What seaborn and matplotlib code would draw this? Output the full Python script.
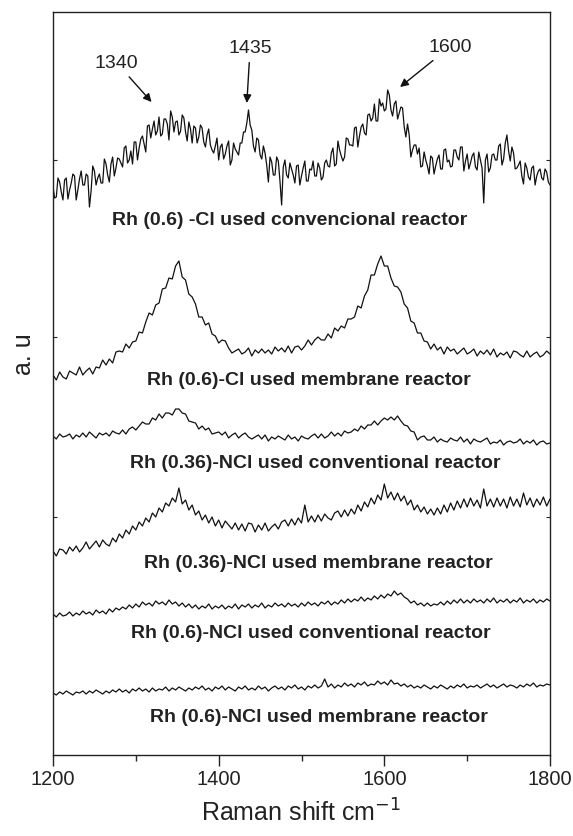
import matplotlib
matplotlib.use("Agg")
import matplotlib.pyplot as plt
import numpy as np
import pandas as pd
import seaborn as sns

# ---------------- data (intensities in arbitrary units) ----------------
raman_shift_fine = list(range(1200, 1801, 2))   # sampling of the noisy top spectrum
raman_shift = list(range(1200, 1801, 4))        # sampling of the other spectra

cl06_conventional = [
    568, 557, 558, 577, 573, 563, 555, 575, 577, 556, 565, 572, 581, 579, 555, 565, 576, 584, 570, 570,
    581, 579, 548, 564, 589, 584, 570, 577, 581, 572, 572, 596, 591, 580, 573, 591, 598, 579, 587, 597,
    596, 592, 588, 607, 609, 592, 595, 604, 591, 613, 613, 595, 607, 616, 619, 611, 603, 629, 630, 617,
    626, 634, 620, 624, 638, 619, 621, 636, 636, 631, 615, 644, 638, 623, 633, 634, 620, 624, 640, 637,
    623, 614, 633, 626, 612, 629, 627, 612, 618, 630, 627, 613, 608, 620, 626, 610, 605, 602, 609, 617,
    595, 608, 611, 596, 601, 609, 614, 590, 595, 612, 606, 603, 600, 612, 612, 623, 623, 632, 645, 630,
    625, 609, 603, 617, 615, 600, 596, 609, 602, 590, 573, 598, 593, 580, 580, 598, 594, 574, 550, 588,
    595, 580, 577, 592, 586, 580, 572, 589, 590, 570, 579, 587, 594, 574, 574, 586, 585, 594, 579, 579,
    592, 587, 575, 578, 592, 595, 589, 588, 602, 607, 589, 591, 614, 605, 599, 594, 598, 617, 616, 610,
    610, 609, 627, 628, 608, 619, 628, 631, 622, 620, 640, 641, 634, 637, 651, 634, 634, 656, 649, 652,
    644, 646, 665, 660, 645, 639, 651, 654, 636, 642, 648, 647, 628, 618, 631, 620, 598, 605, 610, 610,
    601, 607, 588, 589, 603, 595, 589, 581, 599, 597, 581, 589, 596, 600, 586, 586, 605, 606, 593, 595,
    588, 589, 605, 605, 598, 595, 608, 608, 584, 594, 601, 586, 592, 599, 602, 588, 585, 603, 595, 587,
    552, 595, 601, 583, 587, 600, 601, 595, 595, 609, 611, 590, 596, 612, 620, 604, 594, 608, 602, 586,
    587, 590, 594, 579, 571, 592, 587, 578, 575, 587, 589, 570, 579, 584, 586, 577, 575, 586, 583, 573,
    570]

cl06_membrane = [
    380, 375, 383, 378, 376, 384, 382, 380, 388, 380,
    384, 387, 381, 388, 387, 395, 390, 396, 392, 403,
    404, 403, 411, 407, 413, 414, 423, 422, 433, 442,
    440, 450, 452, 466, 467, 477, 476, 489, 494, 478,
    475, 461, 458, 451, 438, 438, 430, 432, 421, 419,
    412, 415, 414, 407, 402, 404, 406, 401, 403, 407,
    399, 405, 402, 406, 402, 405, 401, 408, 404, 407,
    403, 409, 402, 408, 409, 405, 409, 415, 410, 415,
    418, 415, 415, 421, 417, 427, 424, 429, 427, 436,
    436, 438, 449, 447, 459, 465, 480, 480, 491, 499,
    489, 489, 477, 469, 468, 463, 451, 447, 434, 432,
    422, 422, 414, 413, 406, 411, 405, 408, 401, 408,
    404, 406, 401, 404, 407, 401, 403, 406, 399, 404,
    401, 405, 400, 406, 398, 402, 400, 403, 397, 404,
    403, 400, 398, 404, 398, 401, 403, 398, 400, 404,
    401]

ncl036_conventional = [
    319, 316, 321, 318, 319, 321, 316, 320, 318, 322,
    318, 323, 320, 317, 322, 320, 322, 319, 324, 322,
    321, 325, 321, 326, 328, 325, 329, 333, 331, 331,
    337, 335, 341, 337, 342, 342, 340, 346, 346, 342,
    341, 334, 333, 332, 326, 329, 325, 327, 321, 322,
    323, 320, 323, 317, 320, 322, 317, 320, 322, 318,
    316, 318, 320, 316, 320, 314, 318, 316, 319, 317,
    315, 320, 316, 318, 314, 319, 317, 316, 319, 321,
    317, 321, 317, 319, 323, 319, 322, 319, 324, 322,
    323, 326, 324, 329, 326, 330, 330, 334, 330, 334,
    337, 335, 338, 335, 339, 334, 330, 329, 324, 323,
    315, 318, 319, 315, 315, 318, 313, 316, 314, 313,
    317, 315, 314, 318, 313, 316, 311, 316, 314, 313,
    315, 317, 311, 313, 312, 315, 310, 313, 314, 312,
    313, 316, 311, 314, 312, 315, 310, 313, 314, 311,
    312]

ncl036_membrane = [
    204, 199, 206, 205, 201, 208, 204, 209, 203, 207,
    213, 206, 210, 214, 208, 215, 211, 209, 217, 213,
    221, 217, 225, 221, 229, 225, 233, 229, 237, 233,
    242, 238, 247, 243, 252, 249, 257, 253, 267, 251,
    255, 245, 250, 240, 244, 235, 240, 232, 238, 229,
    235, 227, 234, 230, 226, 232, 225, 231, 224, 232,
    231, 223, 230, 225, 232, 224, 228, 231, 226, 233,
    235, 229, 236, 230, 237, 232, 250, 233, 239, 233,
    240, 234, 241, 237, 235, 242, 244, 238, 245, 239,
    246, 241, 250, 244, 253, 248, 257, 251, 260, 255,
    271, 257, 263, 255, 262, 254, 259, 250, 255, 245,
    250, 243, 248, 241, 246, 240, 247, 241, 250, 243,
    252, 245, 254, 247, 256, 248, 257, 249, 255, 247,
    266, 249, 256, 248, 257, 249, 256, 247, 258, 249,
    256, 248, 262, 250, 257, 248, 256, 250, 258, 249,
    256]

ncl06_conventional = [
    141, 138, 142, 139, 140, 143, 139, 142, 140, 144,
    141, 143, 140, 145, 142, 144, 141, 146, 143, 147,
    145, 148, 146, 150, 147, 151, 148, 153, 150, 152,
    149, 154, 151, 153, 150, 155, 151, 153, 149, 152,
    148, 151, 147, 150, 146, 149, 147, 151, 146, 149,
    147, 150, 146, 149, 147, 151, 146, 150, 148, 151,
    147, 150, 148, 152, 147, 150, 148, 152, 149, 151,
    148, 152, 149, 151, 148, 152, 149, 153, 150, 152,
    149, 153, 151, 154, 150, 153, 151, 155, 152, 156,
    153, 156, 154, 158, 154, 157, 155, 159, 156, 160,
    157, 161, 159, 164, 160, 162, 158, 156, 152, 154,
    150, 152, 149, 152, 149, 151, 150, 153, 150, 154,
    151, 155, 152, 156, 152, 155, 152, 156, 153, 155,
    152, 156, 153, 157, 152, 155, 153, 156, 152, 155,
    153, 157, 152, 155, 153, 156, 152, 155, 153, 156,
    154]

ncl06_membrane = [
    62, 60, 63, 61, 64, 62, 60, 63, 62, 64,
    61, 64, 62, 65, 63, 61, 64, 62, 65, 63,
    66, 63, 65, 62, 66, 64, 67, 64, 66, 63,
    67, 64, 66, 65, 68, 64, 67, 65, 68, 66,
    64, 67, 65, 68, 66, 69, 65, 67, 64, 68,
    66, 69, 65, 68, 66, 64, 68, 66, 69, 65,
    67, 65, 69, 66, 68, 64, 67, 69, 66, 68,
    65, 69, 67, 70, 66, 68, 65, 69, 67, 70,
    67, 69, 76, 68, 71, 67, 70, 68, 72, 69,
    71, 68, 72, 70, 73, 69, 71, 70, 74, 71,
    73, 70, 75, 71, 72, 69, 71, 68, 70, 67,
    69, 67, 70, 68, 66, 69, 67, 70, 68, 66,
    69, 67, 70, 68, 71, 67, 69, 68, 70, 67,
    69, 71, 68, 70, 67, 69, 71, 68, 70, 69,
    67, 70, 68, 71, 69, 72, 68, 70, 69, 71,
    70]

sample_names = [
    "Rh (0.6) -Cl used convencional reactor",
    "Rh (0.6)-Cl used membrane reactor",
    "Rh (0.36)-NCl used conventional reactor",
    "Rh (0.36)-NCl used membrane reactor",
    "Rh (0.6)-NCl used conventional reactor",
    "Rh (0.6)-NCl used membrane reactor",
]
spectra = [cl06_conventional, cl06_membrane, ncl036_conventional,
           ncl036_membrane, ncl06_conventional, ncl06_membrane]
shift_axes = [raman_shift_fine, raman_shift, raman_shift,
              raman_shift, raman_shift, raman_shift]

peak_labels = ["1340", "1435", "1600"]
x_ticks = [1200, 1400, 1600, 1800]

# ---------------- layout ----------------
label_pos = [(1486, 535), (1509, 375), (1516, 292), (1520, 192), (1511, 121), (1521, 38)]
arrow_tips = [(1319, 653), (1434, 652), (1619, 668)]
arrow_text = [(1277, 692), (1438, 707), (1679, 708)]

sns.set_theme(style="ticks")
plt.rcParams["font.family"] = ["Liberation Sans", "DejaVu Sans"]
plt.rcParams["axes.linewidth"] = 1.0

fig = plt.figure(figsize=(5.73, 8.36), dpi=100)
ax = fig.add_axes([53 / 573, 81 / 836, 497 / 573, 743 / 836])

frames = []
for name, xs, vals in zip(sample_names, shift_axes, spectra):
    frames.append(pd.DataFrame({"shift": xs, "intensity": vals, "sample": name}))
df = pd.concat(frames, ignore_index=True)

sns.lineplot(data=df, x="shift", y="intensity", hue="sample", units="sample",
             estimator=None, sort=False, palette=["#111111"] * len(sample_names),
             linewidth=0.9, legend=False, ax=ax)

ax.set_xlim(1200, 1800)
ax.set_ylim(0, 743)
ax.set_xticks(x_ticks)
ax.set_xticks([1300, 1500, 1700], minor=True)
ax.tick_params(axis="x", which="major", direction="out", length=8, width=1,
               labelsize=14.5, pad=3, colors="#222222", top=False)
ax.tick_params(axis="x", which="minor", direction="out", length=4, width=1, top=False)
ax.set_yticks([595, 418, 238])
ax.tick_params(axis="y", direction="in", length=3, width=0.8, left=True, right=True,
               labelleft=False)
for s in ax.spines.values():
    s.set_color("#222222")
    s.set_visible(True)

ax.set_xlabel("Raman shift cm$^{-1}$", fontsize=18, labelpad=7, color="#222222")
ax.set_ylabel("a. u", fontsize=18, color="#222222")
ax.yaxis.set_label_coords(-0.035, 0.54)

for name, (lx, ly) in zip(sample_names, label_pos):
    ax.text(lx, ly, name, ha="center", va="center", fontsize=14, fontweight="bold",
            color="#222222")

for lab, tip, tpos in zip(peak_labels, arrow_tips, arrow_text):
    ax.annotate(lab, xy=tip, xytext=tpos, ha="center", va="center", fontsize=14,
                color="#222222",
                arrowprops=dict(arrowstyle="-|>", color="#111111", lw=1.0,
                                mutation_scale=12, shrinkA=2, shrinkB=0))

fig.savefig("out.png", dpi=100)
